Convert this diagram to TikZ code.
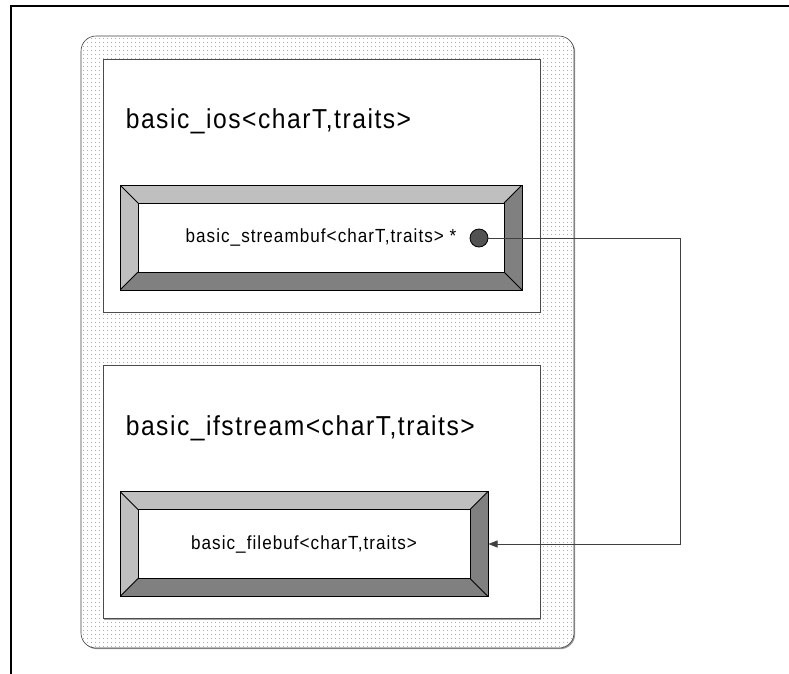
\documentclass[tikz,border=0pt]{standalone}
\usepackage{fontspec}
\setmainfont{Liberation Sans}
\newfontfamily\diagfont[FakeStretch=0.9, LetterSpace=5.5]{Liberation Sans}
\usetikzlibrary{shapes.geometric, arrows.meta, patterns.meta, shadows, positioning}

\tikzdeclarepattern{
  name=sparsedots,
  type=uncolored,
  bottom left={(-2pt,-2pt)},
  top right={(2pt,2pt)},
  tile size={(4pt,4pt)},
  code={\pgfpathcircle{\pgfpointorigin}{0.55pt}\pgfusepath{fill}}
}
\colorlet{bevlight}{black!25}
\colorlet{bevdark}{black!50}
\newcommand{\bevw}{18pt}

\tikzstyle{shell} = [rectangle, rounded corners=15pt, draw=black!75, line width=0.6pt, drop shadow={shadow xshift=1.2pt, shadow yshift=-1.2pt, opacity=1, fill=black!40}, preaction={fill=white}, pattern=sparsedots, pattern color=black!55]
\tikzstyle{classbox} = [rectangle, draw=black!70, line width=0.8pt, fill=white, minimum width=437pt, minimum height=253pt, drop shadow={shadow xshift=0.8pt, shadow yshift=-0.8pt, opacity=1, fill=black!35}]
\tikzstyle{title} = [inner sep=0pt, anchor=base west, font=\diagfont\fontsize{27.4}{32}\selectfont]
\tikzstyle{bevelbox} = [rectangle, draw=black, line width=1pt, minimum height=105pt, font=\diagfont\fontsize{19}{22}\selectfont, path picture={
    \coordinate (bnw) at (path picture bounding box.north west);
    \coordinate (bse) at (path picture bounding box.south east);
    \fill[bevlight] (bnw) rectangle (bse);
    \fill[bevdark] (bnw -| bse) -- (bse) -- (bnw |- bse) -- ([shift={(\bevw,\bevw)}]bnw |- bse) -- ([shift={(-\bevw,\bevw)}]bse) -- ([shift={(-\bevw,-\bevw)}]bnw -| bse) -- cycle;
    \draw[fill=white, line width=0.8pt] ([shift={(\bevw,-\bevw)}]bnw) rectangle ([shift={(-\bevw,\bevw)}]bse);
    \draw[line width=0.8pt] (bnw) -- ++(\bevw,-\bevw) (bse) -- ++(-\bevw,\bevw) (bnw -| bse) -- ++(-\bevw,-\bevw) (bnw |- bse) -- ++(\bevw,\bevw);
  }]
\tikzstyle{pointer} = [circle, draw=black, line width=0.8pt, fill=black!68, minimum size=18pt, inner sep=0pt]
\tikzstyle{arrow} = [draw=black!75, line width=0.8pt, -{Triangle[length=9pt,width=7pt]}]

\begin{document}
\begin{tikzpicture}[x=1pt, y=-1pt]
	\useasboundingbox (0,0) rectangle (789,673);
	\draw [line width=2pt] (11,680) |- (795,6);

	\node (shell) [shell, minimum width=493pt, minimum height=612pt] at (327.5,342) {};
	\node (iosbox) [classbox] at (321.5,185.5) {};
	\node (ifsbox) [classbox, below=53pt of iosbox] {};
	\node (iostitle) [title] at ([shift={(23pt,-70pt)}]iosbox.north west) {basic\_ios<charT,traits>};
	\node (ifstitle) [title] at ([shift={(23pt,-70pt)}]ifsbox.north west) {basic\_ifstream<charT,traits>};

	\node (sbufbox) [bevelbox, minimum width=402pt] at (321,237.5) {basic\_streambuf<charT,traits> *};
	\node (fbufbox) [bevelbox, minimum width=368pt] at (304,544) {basic\_filebuf<charT,traits>};
	\node (ptr) [pointer] at (479,238) {};

	\coordinate (bend) at (680,238);
	\draw [arrow] (ptr) -- (bend) |- (fbufbox);
\end{tikzpicture}
\end{document}
